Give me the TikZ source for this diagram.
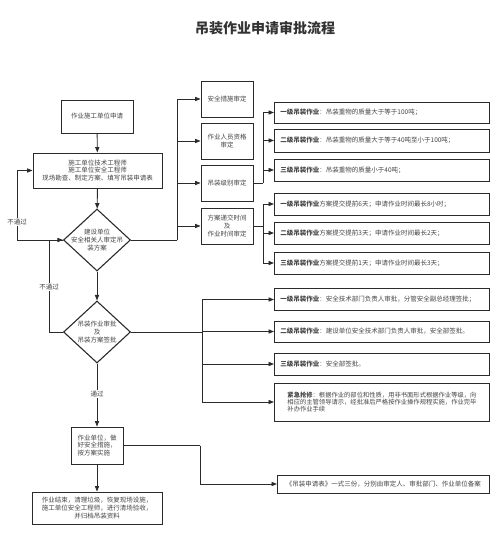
\documentclass[tikz,border=0pt]{standalone}
\usepackage{fontspec}
\setmainfont{Noto Sans CJK SC}
\usetikzlibrary{shapes.geometric,arrows.meta}
\definecolor{ln}{HTML}{2B2B2B}
\definecolor{tx}{HTML}{444444}
\definecolor{tt}{HTML}{333333}
\tikzset{
  box/.style={draw=ln, line width=0.9pt, rectangle, inner sep=0pt, text=tx, font=\fontsize{6.5}{7.6}\selectfont, align=center},
  dia/.style={draw=ln, line width=1.1pt, shape=diamond, minimum width=67pt, minimum height=62pt, inner sep=0pt},
  dtext/.style={text=tx, font=\fontsize{6.5}{8}\selectfont, align=center, inner sep=0pt},
  con/.style={draw=ln, line width=0.9pt},
  arr/.style={con, -{Triangle[length=5.5pt,width=4.2pt]}},
  lab/.style={fill=white, text=tx, font=\fontsize{6.5}{7.6}\selectfont, inner sep=1pt}
}
\begin{document}
\begin{tikzpicture}[x=1pt,y=-1pt]
\useasboundingbox (0,0) rectangle (502,537);
\node[text=tt, font=\fontsize{14}{16}\selectfont\bfseries] (title) at (265,28) {吊装作业申请审批流程};
% left column
\node[box, minimum width=72pt, minimum height=33pt] (apply) at (97,116.5) {作业施工单位申请};
\node[box, minimum width=129pt, minimum height=35pt] (eng) at (97.5,170.5) {施工单位技术工程师\\施工单位安全工程师\\现场勘查、制定方案、填写吊装申请表};
\node[dia] (d1) at (97,240) {};
\node[dtext] (d1t) at (d1) {建设单位\\安全相关人审定吊\\装方案};
\node[dia] (d2) at (97,332) {};
\node[dtext] (d2t) at (d2) {吊装作业审批\\及\\吊装方案签批};
\node[box, minimum width=52pt, minimum height=37pt, align=left] (work) at (97,445.5) {作业单位，做\\好安全措施，\\按方案实施};
\node[box, minimum width=130pt, minimum height=32pt] (fin) at (97,508) {作业结束，清理垃圾，恢复现场设施，\\施工单位安全工程师，进行清场验收，\\并归档吊装资料};
% middle column
\node[box, minimum width=52pt, minimum height=36pt] (A) at (227,99) {安全措施审定};
\node[box, minimum width=52pt, minimum height=36pt] (B) at (227,141) {作业人员资格\\审定};
\node[box, minimum width=52pt, minimum height=36pt] (C) at (227,183) {吊装级别审定};
\node[box, minimum width=52pt, minimum height=36pt] (D) at (227,226) {方案递交时间\\及\\作业时间审定};
% right column
\tikzset{rb/.style={box, align=left, anchor=west, minimum width=215pt, text width=209pt, minimum height=#1}}
\node[rb=21pt] (g1a) at (274,112.5) {\hspace*{3pt}\textbf{一级吊装作业}：吊装重物的质量大于等于100吨；};
\node[rb=23pt] (g1b) at (274,140.5) {\hspace*{3pt}\textbf{二级吊装作业}：吊装重物的质量大于等于40吨至小于100吨；};
\node[rb=22pt] (g1c) at (274,170) {\hspace*{3pt}\textbf{三级吊装作业}：吊装重物的质量小于40吨；};
\node[rb=22pt] (g2a) at (274,204) {\hspace*{3pt}\textbf{一级吊装作业}方案提交提前6天；申请作业时间最长8小时；};
\node[rb=22pt] (g2b) at (274,233) {\hspace*{3pt}\textbf{二级吊装作业}方案提交提前3天；申请作业时间最长2天；};
\node[rb=22pt] (g2c) at (274,263) {\hspace*{3pt}\textbf{三级吊装作业}方案提交提前1天；申请作业时间最长3天；};
\node[rb=22pt] (g3a) at (274,299.5) {\hspace*{3pt}\textbf{一级吊装作业}：安全技术部门负责人审批，分管安全副总经理签批；};
\node[rb=21pt] (g3b) at (274,331.5) {\hspace*{3pt}\textbf{二级吊装作业}：建设单位安全技术部门负责人审批，安全部签批。};
\node[rb=22pt] (g3c) at (274,364) {\hspace*{3pt}\textbf{三级吊装作业}：安全部签批。};
\node[box, anchor=west, minimum width=215pt, minimum height=38pt, align=left, font=\fontsize{6.3}{7}\selectfont] (g3d) at (274,402) {\textbf{紧急抢修}：根据作业的部位和性质，用非书面形式根据作业等级，向\\相应的主管领导请示，经批准后严格按作业操作规程实施，作业完毕\\补办作业手续};
\node[box, anchor=west, minimum width=212pt, minimum height=18pt] (rec) at (277,484) {《吊装申请表》一式三份，分别由审定人、审批部门、作业单位备案};
% junctions
\coordinate (j1) at (177,240);
\coordinate (j2) at (263,183);
\coordinate (j3) at (263,226);
\coordinate (j4) at (202,332);
\coordinate (j5) at (200,445.5);
\coordinate (l1) at (17,240);
\coordinate (l2) at (49,332);
% main flow
\draw[arr] (apply) -- (eng);
\draw[arr] (eng) -- (d1);
\draw[arr] (d1) -- (d2);
\draw[arr] (d2) -- node[lab, pos=0.49] (pass) {通过} (work);
\draw[arr] (work) -- (fin);
% loops
\draw[arr] (d1.west) -- (l1) |- node[lab, pos=0.13] (fail1) {不通过} (eng.west);
\draw[arr] (d2.west) -- (l2) |- node[lab, pos=0.245] (fail2) {不通过} (d1.west);
% branches from d1
\draw[con] (d1.east) -- (j1);
\draw[arr] (j1) |- (A.west);
\draw[arr] (j1) |- (B.west);
\draw[arr] (j1) |- (C.west);
\draw[arr] (j1) |- (D.west);
% branches from C
\draw[con] (C.east) -- (j2);
\draw[arr] (j2) |- (g1a.west);
\draw[arr] (j2) |- (g1b.west);
\draw[arr] (j2) |- (g1c.west);
% branches from D
\draw[con] (D.east) -- (j3);
\draw[arr] (j3) |- (g2a.west);
\draw[arr] (j3) |- (g2b.west);
\draw[arr] (j3) |- (g2c.west);
% branches from d2
\draw[con] (d2.east) -- (j4);
\draw[arr] (j4) |- (g3a.west);
\draw[arr] (j4) |- (g3b.west);
\draw[arr] (j4) |- (g3c.west);
\draw[arr] (j4) |- (g3d.west);
% work to record
\draw[con] (work.east) -- (j5);
\draw[arr] (j5) |- (rec.west);
\end{tikzpicture}
\end{document}
